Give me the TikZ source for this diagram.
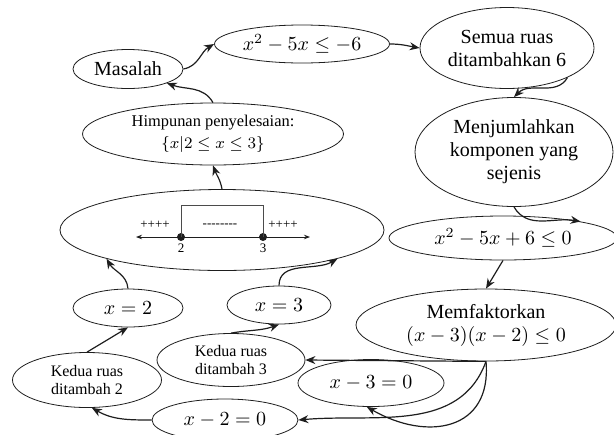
\documentclass[tikz,border=0pt]{standalone}
\usepackage{amsmath}
\usepackage{fontspec}
\setmainfont{Liberation Serif}
\usetikzlibrary{arrows.meta, positioning, shapes.geometric}
\definecolor{DG}{RGB}{30,30,30}

\begin{document}
\begin{tikzpicture}[x=0.5pt, y=0.5pt,
  oval/.style 2 args={draw=DG, ellipse, inner sep=0pt,
              minimum width=#1, minimum height=#2,
              align=center, font=\fontsize{10}{11.5}\selectfont},
  kecil/.style={font=\fontsize{8}{9}\selectfont},
  arr/.style={-{Stealth[length=5pt, width=4pt]}, semithick, draw=DG},
  titik/.style={circle, fill=DG, inner sep=0pt, minimum size=4pt},
  angka/.style={font=\fontsize{6.5}{7}\selectfont, inner sep=1pt}
]
\useasboundingbox (0,0) rectangle (614,-434);
\clip (0,0) rectangle (614,-434);

% Langkah-langkah
\node[oval={55pt}{19.5pt}]  (masalah) at (128,-69)  {Masalah};
\node[oval={87.5pt}{19pt}]  (soal)    at (302,-44)  {$x^2-5x\le -6$};
\node[oval={87pt}{40.5pt}]  (semua)   at (507,-48)  {Semua ruas\\ditambahkan 6};
\node[oval={99pt}{54.5pt}]  (jumlah)  at (514,-152) {Menjumlahkan\\komponen yang\\sejenis};
\node[oval={114pt}{22pt}]   (bentuk)  at (503,-238) {$x^2-5x+6\le 0$};
\node[oval={130pt}{36pt}]   (faktor)  at (486,-325) {Memfaktorkan\\$(x-3)(x-2)\le 0$};
\node[oval={73pt}{23.5pt}]  (akar3)   at (371,-383) {$x-3=0$};
\node[oval={73pt}{21pt}]    (akar2)   at (225,-420) {$x-2=0$};
\node[oval={74pt}{26.5pt}, kecil]   (tambah3) at (231,-360) {Kedua ruas\\ditambah 3};
\node[oval={74.5pt}{27.5pt}, kecil] (tambah2) at (87,-380)  {Kedua ruas\\ditambah 2};
\node[oval={55pt}{19pt}]    (xdua)    at (128,-308) {$x=2$};
\node[oval={52pt}{19pt}]    (xtiga)   at (279,-305) {$x=3$};
\node[oval={162pt}{40.5pt}] (garis)   at (222,-230) {};
\node[oval={130.5pt}{31pt}, font=\fontsize{8.2}{11}\selectfont] (hp) at (213,-134)
  {Himpunan penyelesaian:\\$\{x|2\le x\le 3\}$};

% Garis bilangan
\coordinate (kiri)  at (136,-237);
\coordinate (kanan) at (310,-237);
\draw[{Stealth[length=3pt]}-{Stealth[length=3pt]}, thin, draw=DG] (kiri) -- (kanan);
\node[titik] (t2) at (181,-237) {};
\node[titik] (t3) at (263,-237) {};
\draw[thin, draw=DG!80] (t2.center) -- ++(0,32) -| (t3.center);
\node[angka, below=0pt of t2] (n2) {2};
\node[angka, below=0pt of t3] (n3) {3};
\node[angka] (plus1) at (155,-225) {++++};
\node[angka] (plus2) at (283,-225) {++++};
\node[angka] (minus) at (220,-226) {{-}{-}{-}{-}{-}{-}{-}{-}};

\draw[arr] (masalah.east) to[out=10, in=210] (soal.west);
\draw[arr] (soal.east) to[out=0, in=170] (semua.west);
\draw[arr] (semua.-26) to[out=-120, in=45] (jumlah.north);
\draw[arr] (jumlah.south) to[out=-60, in=170] (bentuk.12);
\draw[arr] (bentuk.south) -- (faktor.north);
\draw[arr] (faktor.south) -- (tambah3.east);
\draw[arr] (faktor.south) to[out=-110, in=5] (akar2.east);
\draw[arr] (faktor.south) to[out=-85, in=-30, looseness=1.4] (akar3.-100);
\draw[arr] (akar2.west) to[out=180, in=-30] (tambah2.-80);
\draw[arr] (tambah2.north) -- (xdua.south);
\draw[arr] (tambah3.north) to[out=10, in=200] (xtiga.south);
\draw[arr] (xdua.north) to[out=95, in=-60] (garis.-166);
\draw[arr] (xtiga.north) to[out=90, in=210] (garis.-14);
\draw[arr] (garis.north) to[out=100, in=-70] (hp.south);
\draw[arr] (hp.north) to[out=120, in=-20] (masalah.-20);
\end{tikzpicture}
\end{document}
